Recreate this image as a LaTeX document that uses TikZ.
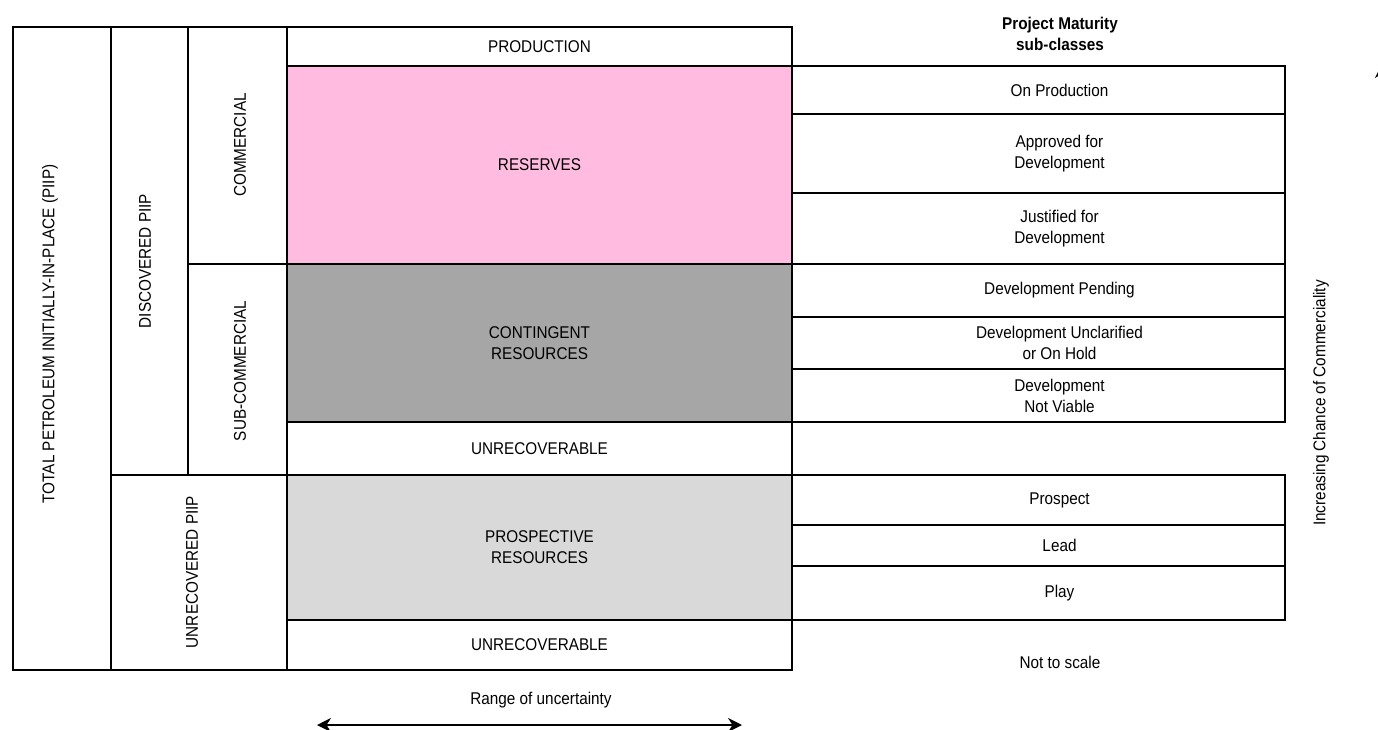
\documentclass[tikz,border=0pt]{standalone}
\usepackage{fontspec}
\setmainfont[FakeStretch=0.9]{Liberation Sans}
\usetikzlibrary{arrows.meta}
\definecolor{respink}{RGB}{255,187,224}
\definecolor{contgray}{RGB}{166,166,166}
\definecolor{prospgray}{RGB}{217,217,217}

\begin{document}
\begin{tikzpicture}[>=Stealth, x=1pt, y=-1pt,
  every node/.style={font=\fontsize{17}{21}\selectfont, align=center},
  box/.style={draw, line width=1.8pt},
  sub/.style={xshift=21pt}]
\useasboundingbox (0,0) rectangle (1378,730);
\foreach \n/\xa/\ya/\xb/\yb/\lx/\ly/\t in {total/13/27/111/670/50/334/{TOTAL PETROLEUM INITIALLY-IN-PLACE (PIIP)},
  disc/111/27/188/475/145/261/{DISCOVERED PIIP}, undisc/111/475/287/670/192/572/{UNRECOVERED PIIP},
  comm/188/27/287/264/240/145/COMMERCIAL, subcomm/188/264/287/475/240/371/SUB-COMMERCIAL}
  \draw[box] (\xa,\ya) rectangle (\xb,\yb) (\lx,\ly) node[rotate=90] (\n) {\t};
\foreach \n/\ya/\yb/\f/\t in {prod/27/66/white/PRODUCTION, res/66/264/respink/RESERVES,
  cont/264/422/contgray/{CONTINGENT\\RESOURCES}, unrecA/422/475/white/UNRECOVERABLE,
  prosp/475/620/prospgray/{PROSPECTIVE\\RESOURCES}, unrecB/620/670/white/UNRECOVERABLE}
  \draw[box, fill=\f] (287,\ya) rectangle (792,\yb) node[midway] (\n) {\t};
\foreach \n/\ya/\yb/\t in {onprod/66/114/On Production, approved/114/193/{Approved for\\Development},
  justified/193/264/{Justified for\\Development}, pending/264/317/Development Pending,
  unclar/317/369/{Development Unclarified\\or On Hold}, notviable/369/422/{Development\\Not Viable},
  prospect/475/525/Prospect, lead/525/566/Lead, play/566/620/Play}
  \draw[box] (792,\ya) rectangle (1285,\yb) node[midway, sub] (\n) {\t};
\node[font=\bfseries\fontsize{17}{21}\selectfont] (pmhead) at (1060,34) {Project Maturity\\sub-classes};
\node (noscale) at (1060,662) {Not to scale};
\node[rotate=90] (chance) at (1321,403) {Increasing Chance of Commerciality};
\coordinate (chb) at (1382,600);
\coordinate (cht) at (1382,64);
\draw[-{Stealth[length=14pt,width=14pt]}, line width=1.8pt] (chb) -- (cht);
\node (range) at (541,700) {Range of uncertainty};
\coordinate (rgl) at (317,725);
\coordinate (rgr) at (742,725);
\draw[{Stealth[length=14pt,width=14pt]}-{Stealth[length=14pt,width=14pt]}, line width=1.8pt] (rgl) -- (rgr);
\end{tikzpicture}
\end{document}
